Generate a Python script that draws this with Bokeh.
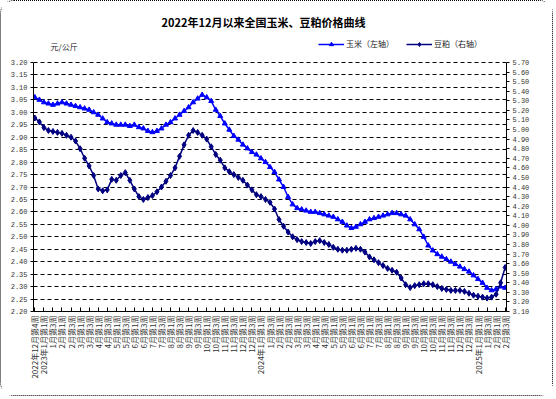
import numpy as np
from bokeh.plotting import figure
from bokeh.models import (Range1d, LinearAxis, FixedTicker, NumeralTickFormatter,
                          Legend, LegendItem, Label)
from bokeh.embed import file_html
from bokeh.resources import INLINE

# ---------------- data ----------------
corn = [
    3.06, 3.05, 3.04, 3.035, 3.03, 3.035, 3.04, 3.035, 3.03, 3.025,
    3.02, 3.015, 3.01, 3.00, 2.99, 2.975, 2.96, 2.955, 2.95, 2.95,
    2.95, 2.945, 2.95, 2.94, 2.935, 2.925, 2.92, 2.925, 2.935, 2.95,
    2.96, 2.975, 2.99, 3.005, 3.02, 3.04, 3.055, 3.07, 3.06, 3.045,
    3.01, 2.985, 2.955, 2.93, 2.905, 2.89, 2.87, 2.855, 2.84, 2.83,
    2.815, 2.80, 2.78, 2.76, 2.73, 2.70, 2.66, 2.63, 2.615, 2.61,
    2.605, 2.60, 2.60, 2.595, 2.59, 2.585, 2.58, 2.57, 2.56, 2.545,
    2.535, 2.54, 2.55, 2.56, 2.57, 2.575, 2.58, 2.585, 2.59, 2.595,
    2.595, 2.59, 2.585, 2.57, 2.55, 2.53, 2.50, 2.465, 2.445, 2.43,
    2.42, 2.41, 2.40, 2.39, 2.38, 2.37, 2.36, 2.345, 2.33, 2.315,
    2.295, 2.285, 2.29, 2.30, 2.295,
]

soymeal = [
    5.12, 5.08, 5.02, 4.99, 4.98, 4.97, 4.96, 4.94, 4.92, 4.88,
    4.80, 4.70, 4.62, 4.52, 4.38, 4.36, 4.37, 4.48, 4.47, 4.52,
    4.55, 4.47, 4.38, 4.30, 4.27, 4.29, 4.31, 4.35, 4.40, 4.46,
    4.52, 4.60, 4.72, 4.84, 4.94, 4.99, 4.97, 4.94, 4.90, 4.82,
    4.74, 4.68, 4.60, 4.56, 4.53, 4.50, 4.47, 4.42, 4.37, 4.32,
    4.30, 4.27, 4.24, 4.17, 4.06, 3.99, 3.93, 3.88, 3.85, 3.83,
    3.82, 3.81, 3.83, 3.84, 3.82, 3.80, 3.77, 3.75, 3.74, 3.74,
    3.75, 3.76, 3.75, 3.72, 3.67, 3.64, 3.61, 3.58, 3.55, 3.53,
    3.51, 3.45, 3.38, 3.35, 3.37, 3.38, 3.39, 3.39, 3.38, 3.36,
    3.34, 3.33, 3.32, 3.32, 3.32, 3.31, 3.29, 3.27, 3.26, 3.25,
    3.24, 3.25, 3.28, 3.40, 3.56,
]

week_labels = [
    "2022年12月第4周",
    "2023年1月第1周", "1月第3周", "2月第1周", "2月第3周", "3月第1周", "3月第3周",
    "4月第1周", "4月第3周", "5月第1周", "5月第3周", "6月第1周", "6月第3周",
    "7月第1周", "7月第3周", "8月第1周", "8月第3周", "9月第1周", "9月第3周",
    "10月第1周", "10月第3周", "11月第1周", "11月第3周", "12月第1周", "12月第3周",
    "2024年1月第1周", "1月第3周", "2月第1周", "2月第3周", "3月第1周", "3月第3周",
    "4月第1周", "4月第3周", "5月第1周", "5月第3周", "6月第1周", "6月第3周",
    "7月第1周", "7月第3周", "8月第1周", "8月第3周", "9月第1周", "9月第3周",
    "10月第1周", "10月第3周", "11月第1周", "11月第3周", "12月第1周", "12月第3周",
    "2025年1月第1周", "1月第3周", "2月第1周", "2月第3周",
]

left_min, left_max, left_step = 2.20, 3.20, 0.05
right_min, right_max, right_step = 3.10, 5.70, 0.10
left_ticks = [round(left_min + left_step * k, 2) for k in range(21)]
right_ticks = [round(right_min + right_step * k, 2) for k in range(27)]

title_text = "2022年12月以来全国玉米、豆粕价格曲线"
unit_text = "元/公斤"
corn_name = "玉米（左轴）"
soy_name = "豆粕（右轴）"

# ---------------- layout ----------------
W, H = 553, 396
BL, BR, BB = 32, 48, 86
FW = W - BL - BR          # frame width
FH = H - BB               # frame height (frame reaches the top; axes are bounded)
PLOT_TOP = 61             # pixel where the value area (3.20 / 5.70) starts
AREA_H = FH - PLOT_TOP

n = len(corn)
xs = list(range(n))
x0, x1 = -0.3, n - 1 + 0.3
ly_top = left_max + PLOT_TOP / AREA_H * (left_max - left_min)
ry_top = right_max + PLOT_TOP / AREA_H * (right_max - right_min)

def dx(px):
    return x0 + (px - BL) / FW * (x1 - x0)

def dy(py):
    return ly_top - py / FH * (ly_top - left_min)

CJK = "Noto Sans CJK SC"
NUM = "Liberation Mono"

p = figure(width=W, height=H, output_backend="svg", toolbar_location=None,
           x_range=Range1d(x0, x1), y_range=Range1d(left_min, ly_top),
           min_border_left=BL, min_border_right=BR,
           min_border_top=0, min_border_bottom=BB,
           background_fill_color="white", border_fill_color="white")
p.outline_line_color = None
p.styles = {"border": "1px dotted #000", "border-radius": "14px"}

p.extra_y_ranges = {"right": Range1d(right_min, ry_top)}

la = p.yaxis[0]
la.ticker = FixedTicker(ticks=left_ticks)
la.formatter = NumeralTickFormatter(format="0.00")
la.bounds = (left_min, left_max)
ra = LinearAxis(y_range_name="right", ticker=FixedTicker(ticks=right_ticks),
                formatter=NumeralTickFormatter(format="0.00"),
                bounds=(right_min, right_max))
p.add_layout(ra, "right")

for ax in (la, ra):
    ax.major_label_text_font = NUM
    ax.major_label_text_font_size = "7px"
    ax.major_label_text_color = "#333333"
    ax.axis_line_color = "black"
    ax.major_tick_line_color = "black"
    ax.major_tick_in = 0
    ax.major_tick_out = 3
    ax.minor_tick_line_color = None
    ax.major_label_standoff = 3

xa = p.xaxis[0]
xa.ticker = FixedTicker(ticks=list(range(0, n, 2)))
xa.major_label_overrides = {i * 2: lab for i, lab in enumerate(week_labels)}
xa.major_label_orientation = np.pi / 2
xa.major_label_text_font = CJK
xa.major_label_text_font_size = "8px"
xa.major_label_text_color = "#333333"
xa.axis_line_color = "black"
xa.major_tick_line_color = "black"
xa.major_tick_in = 4
xa.major_tick_out = 0
xa.minor_tick_line_color = None
xa.major_label_standoff = 4

p.xgrid.visible = False
p.ygrid.ticker = FixedTicker(ticks=left_ticks)
p.ygrid.grid_line_color = "black"
p.ygrid.grid_line_dash = "4 3"
p.ygrid.grid_line_width = 1

corn_line = p.line(xs, corn, color="#0000ff", line_width=1.5)
corn_pts = p.scatter(xs, corn, marker="triangle", size=5, color="#0000ff")
soy_line = p.line(xs, soymeal, y_range_name="right", color="#000080", line_width=1.5)
soy_pts = p.scatter(xs, soymeal, y_range_name="right", marker="diamond", size=6,
                    color="#000080")

legend = Legend(items=[LegendItem(label=corn_name, renderers=[corn_line, corn_pts]),
                       LegendItem(label=soy_name, renderers=[soy_line, soy_pts])],
                orientation="horizontal", location=(285, FH - 48),
                background_fill_alpha=0, border_line_color=None,
                label_text_font=CJK, label_text_font_size="8px",
                label_text_color="#222222", glyph_width=26, glyph_height=10,
                label_standoff=2, spacing=12, padding=0, margin=0)
p.add_layout(legend, "center")

p.add_layout(Label(x=dx(262), y=dy(20), text=title_text, text_font=CJK,
                   text_font_size="11px", text_font_style="bold",
                   text_align="center", text_baseline="middle", text_color="black"))
p.add_layout(Label(x=dx(49), y=dy(45), text=unit_text, text_font=CJK,
                   text_font_size="8px", text_align="left", text_baseline="middle",
                   text_color="#222222"))

open("out.html", "w").write(file_html(p, INLINE))
